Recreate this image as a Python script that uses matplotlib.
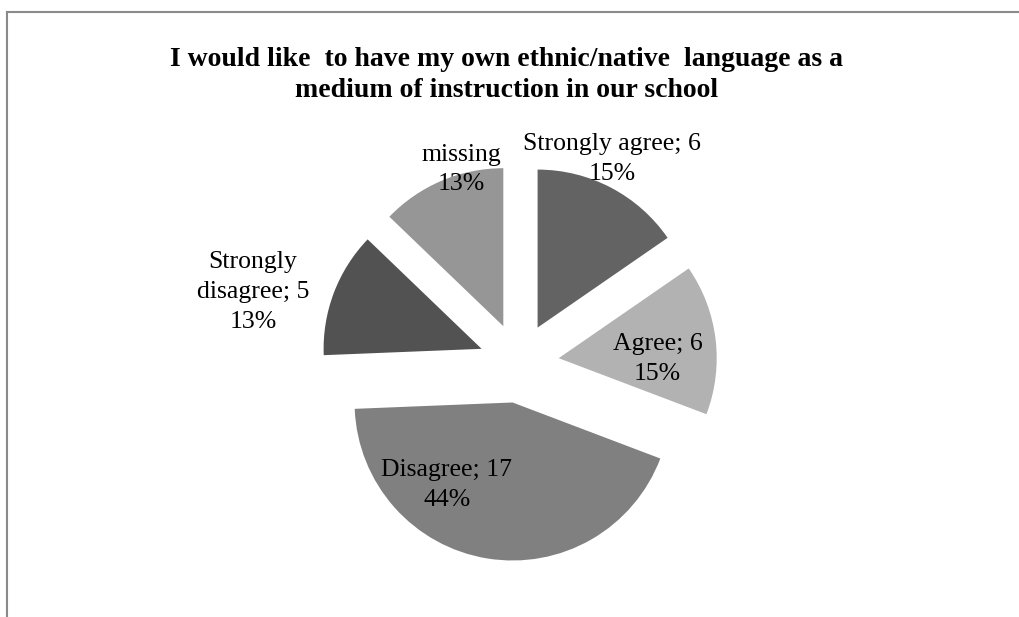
import matplotlib.pyplot as plt
from matplotlib.lines import Line2D

# Respuestas a la pregunta sobre la lengua materna como medio de instrucción
categories = ['Strongly agree', 'Agree', 'Disagree', 'Strongly\ndisagree', 'missing']
counts = [6, 6, 17, 5, 5]
colors = ['#636363', '#b2b2b2', '#808080', '#525252', '#969696']

# posiciones de las etiquetas (en unidades del radio)
label_xy = [(0.589, 1.29), (0.877, 0.025), (-0.456, -0.772), (-1.684, 0.45), (-0.367, 1.225)]

W, H, dpi = 1020, 617, 100
cx, cy, r_px = 519, 363, 158

plt.rcParams['font.family'] = 'Liberation Serif'

fig = plt.figure(figsize=(W / dpi, H / dpi), dpi=dpi)
ax = fig.add_axes([0, 0, 1, 1])

total = sum(counts)
ax.pie(counts, startangle=90, counterclock=False, colors=colors,
       explode=[40 / r_px] * len(counts), radius=1,
       wedgeprops=dict(edgecolor='none'))

for cat, v, (x, y) in zip(categories, counts, label_xy):
    pct = round(v / total * 100)
    txt = cat if cat == 'missing' else f'{cat}; {v}'
    ax.text(x, y, f'{txt}\n{pct}%', ha='center', va='center',
            fontsize=18.5, linespacing=1.45, color='black')

ax.set_aspect('auto')
ax.set_xlim(-cx / r_px, (W - cx) / r_px)
ax.set_ylim(-(H - cy) / r_px, cy / r_px)
ax.axis('off')

fig.text(507 / W, 1 - 75 / H,
         'I would like  to have my own ethnic/native  language as a\nmedium of instruction in our school',
         ha='center', va='center', fontsize=20, fontweight='bold', linespacing=1.35)

# marco del gráfico
fig.add_artist(Line2D([7 / W, 1], [1 - 12 / H, 1 - 12 / H], color='#8a8a8a', lw=1.5))
fig.add_artist(Line2D([7 / W, 7 / W], [0, 1 - 12 / H], color='#8a8a8a', lw=1.5))

fig.savefig('out.png', dpi=dpi)
